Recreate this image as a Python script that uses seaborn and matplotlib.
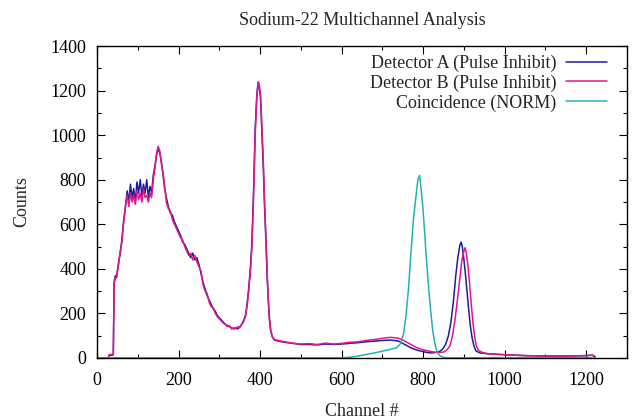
import matplotlib
matplotlib.use("Agg")
import matplotlib.pyplot as plt
import numpy as np
import pandas as pd
import seaborn as sns
from matplotlib.ticker import MultipleLocator

# Detector A (Pulse Inhibit)
chan_a = [0, 28, 30, 38, 40, 42, 45, 48, 53, 57, 61, 65, 70, 74, 78, 82, 86, 90, 94, 98,
          102, 106, 110, 114, 118, 122, 126, 130, 134, 138, 142, 146, 150, 154, 158, 162,
          166, 170, 175, 180, 185, 190, 195, 200, 205, 210, 215, 220, 225, 230, 235, 240,
          245, 250, 255, 260, 265, 270, 275, 280, 285, 290, 295, 300, 305, 310, 315, 320,
          325, 330, 335, 340, 345, 350, 355, 360, 364, 368, 372, 376, 380, 384, 388, 392,
          395, 398, 401, 404, 408, 411, 414, 417, 420, 423, 426, 430, 435, 445, 460, 480,
          500, 520, 540, 560, 580, 600, 620, 640, 660, 680, 700, 720, 740, 750, 760, 770,
          780, 790, 800, 810, 820, 830, 840, 848, 855, 862, 868, 874, 880, 885, 890, 893,
          896, 900, 904, 908, 912, 916, 920, 925, 930, 940, 960, 1000, 1050, 1100, 1150,
          1200, 1215, 1222]
counts_a = [0, 0, 12, 12, 15, 340, 370, 360, 430, 470, 530, 610, 680, 750, 700, 780, 720, 760,
            700, 790, 740, 800, 730, 780, 740, 800, 720, 770, 740, 820, 860, 910, 940, 920,
            880, 820, 760, 720, 680, 650, 640, 610, 590, 570, 550, 520, 510, 490, 470, 450,
            470, 440, 450, 420, 380, 340, 310, 280, 260, 240, 220, 210, 190, 180, 170, 160,
            150, 145, 140, 135, 130, 135, 130, 140, 150, 170, 190, 240, 310, 400, 520, 750,
            1030, 1180, 1235, 1210, 1170, 1030, 850, 680, 540, 380, 260, 170, 120, 95, 80,
            75, 70, 65, 60, 60, 58, 62, 60, 62, 65, 68, 72, 75, 78, 80, 75, 65, 55, 45, 38,
            32, 28, 24, 22, 24, 28, 40, 60, 100, 160, 250, 370, 450, 505, 520, 500, 440, 370,
            290, 210, 140, 90, 50, 30, 22, 18, 14, 10, 8, 8, 10, 12, 5]

# Detector B (Pulse Inhibit)
chan_b = [0, 28, 30, 38, 40, 42, 45, 48, 53, 57, 61, 65, 70, 74, 78, 82, 86, 90, 94, 98,
          102, 106, 110, 114, 118, 122, 126, 130, 134, 138, 142, 146, 150, 154, 158, 162,
          166, 170, 175, 180, 185, 190, 195, 200, 205, 210, 215, 220, 225, 230, 235, 240,
          245, 250, 255, 260, 265, 270, 275, 280, 285, 290, 295, 300, 305, 310, 315, 320,
          325, 330, 335, 340, 345, 350, 355, 360, 364, 368, 372, 376, 380, 384, 388, 392,
          395, 398, 401, 404, 408, 411, 414, 417, 420, 423, 426, 430, 435, 445, 460, 480,
          500, 520, 540, 560, 580, 600, 620, 640, 660, 680, 700, 720, 740, 750, 760, 770,
          780, 790, 800, 810, 820, 830, 840, 850, 858, 866, 872, 878, 884, 890, 895, 900,
          903, 906, 910, 914, 918, 922, 926, 930, 935, 945, 960, 1000, 1050, 1100, 1150,
          1200, 1215, 1222]
counts_b = [0, 0, 15, 15, 18, 330, 360, 370, 420, 480, 520, 600, 690, 730, 680, 740, 700, 730,
            690, 750, 710, 740, 700, 760, 720, 730, 700, 740, 720, 800, 850, 920, 950, 930,
            870, 830, 770, 700, 670, 660, 620, 600, 580, 560, 540, 530, 500, 480, 460, 470,
            440, 460, 430, 410, 390, 330, 300, 290, 250, 230, 225, 200, 185, 175, 165, 155,
            150, 140, 145, 130, 135, 130, 140, 135, 150, 165, 185, 230, 300, 380, 500, 720,
            1000, 1170, 1240, 1230, 1180, 1060, 880, 700, 560, 400, 270, 180, 125, 95, 82,
            78, 72, 66, 62, 64, 60, 66, 62, 65, 70, 72, 78, 82, 88, 92, 88, 80, 70, 60, 50,
            42, 36, 32, 28, 25, 24, 26, 35, 55, 100, 170, 260, 360, 440, 480, 495, 470, 410,
            330, 240, 160, 100, 55, 35, 24, 18, 14, 10, 8, 8, 10, 12, 5]

# Coincidence (NORM)
chan_c = [0, 600, 620, 640, 660, 680, 700, 720, 735, 745, 752, 758, 764, 770, 776, 782, 787,
          791, 795, 799, 803, 807, 811, 815, 819, 823, 827, 831, 836, 842, 850, 860, 1222]
counts_c = [0, 0, 3, 8, 15, 22, 30, 38, 45, 65, 110, 190, 310, 470, 620, 720, 800, 820, 760,
            680, 580, 470, 370, 280, 200, 130, 80, 45, 20, 8, 2, 0, 0]

labels = ["Detector A (Pulse Inhibit)", "Detector B (Pulse Inhibit)", "Coincidence (NORM)"]
palette = ["#1c1c9c", "#e2168a", "#22b2b6"]

sns.set_style("ticks")
plt.rcParams["font.family"] = ["Liberation Serif", "DejaVu Serif"]
fs = 13

fig = plt.figure(figsize=(6.34, 4.2), dpi=100)
ax = fig.add_axes([0.153, 0.148, 0.836, 0.742])

for ch, ct, lab, col in zip([chan_a, chan_b, chan_c], [counts_a, counts_b, counts_c], labels, palette):
    df = pd.DataFrame({"Channel": ch, "Counts": ct})
    sns.lineplot(data=df, x="Channel", y="Counts", ax=ax, color=col, linewidth=1.1,
                 label=lab, estimator=None, sort=False)

ax.set_xlim(0, 1300)
ax.set_ylim(0, 1400)
ax.xaxis.set_major_locator(MultipleLocator(200))
ax.xaxis.set_minor_locator(MultipleLocator(100))
ax.yaxis.set_major_locator(MultipleLocator(200))
ax.yaxis.set_minor_locator(MultipleLocator(100))
ax.tick_params(which="both", direction="in", top=True, right=True, colors="black", labelsize=fs)
ax.tick_params(which="major", length=6, width=0.8)
ax.tick_params(axis="x", which="major", pad=10)
ax.tick_params(axis="y", which="major", pad=8)
ax.tick_params(which="minor", length=3, width=0.8)
for s in ax.spines.values():
    s.set_linewidth(1.0)
    s.set_color("black")

ax.set_title("Sodium-22 Multichannel Analysis", fontsize=fs, pad=15)
ax.set_xlabel("Channel #", fontsize=fs, labelpad=10)
ax.set_ylabel("Counts", fontsize=fs, labelpad=14)

leg = ax.legend(loc="upper right", bbox_to_anchor=(0.990, 1.019), frameon=False, markerfirst=False,
                handlelength=2.3, fontsize=fs, labelspacing=0.14, borderaxespad=0.6,
                borderpad=0.2, handletextpad=0.5)

fig.savefig("out.png", dpi=100)
